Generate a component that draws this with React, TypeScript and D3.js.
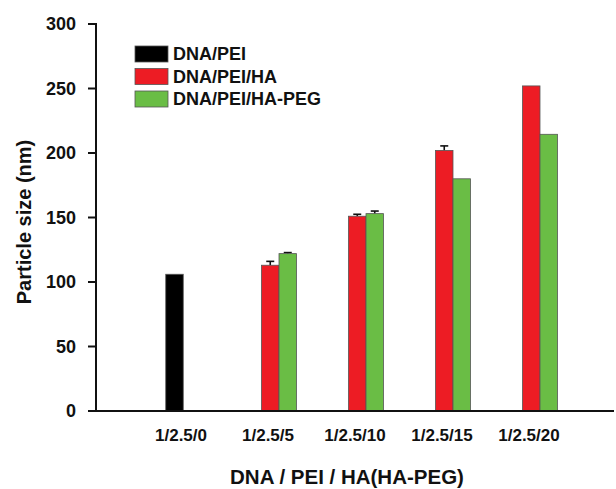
import React from "react";
import * as d3 from "d3";

// data
const categories = ["1/2.5/0", "1/2.5/5", "1/2.5/10", "1/2.5/15", "1/2.5/20"];
const seriesNames = ["DNA/PEI", "DNA/PEI/HA", "DNA/PEI/HA-PEG"];
const dnaPei = [106, null, null, null, null];
const dnaPeiHa = [null, 113, 151, 202, 252];
const dnaPeiHaPeg = [null, 122, 153, 180, 214.5];
const dnaPeiErr = [0, null, null, null, null];
const dnaPeiHaErr = [null, 3, 1.5, 3.5, 0];
const dnaPeiHaPegErr = [null, 0.8, 2, 0, 0];
const yTicks = [0, 50, 100, 150, 200, 250, 300];

const colors = ["#000000", "#ed1c24", "#6abd45"];
const font = "'Liberation Sans', Arial, sans-serif";

export default function App() {
  const width = 616;
  const height = 489;
  const margin = { left: 96, top: 24, right: 2 };
  const baseY = 411; // y position of the x axis

  const x = d3.scaleBand<string>()
    .domain(categories)
    .range([148.5, 583.5]);

  const y = d3.scaleLinear()
    .domain([0, 300])
    .range([baseY, margin.top]);

  const bw = 17.5;
  // bar left edges relative to the band centre, in bar widths
  const offsets = [-1.5, -1, 0];
  const values = [dnaPei, dnaPeiHa, dnaPeiHaPeg];
  const errors = [dnaPeiErr, dnaPeiHaErr, dnaPeiHaPegErr];

  const center = (c: string) => (x(c) as number) + x.bandwidth() / 2;

  return (
    <svg width={width} height={height} style={{ position: "absolute", left: 0, top: 0, background: "#fff" }}>
      {/* bars */}
      {values.map((vals, s) =>
        vals.map((v, i) => {
          if (v == null) return null;
          const x0 = center(categories[i]) + offsets[s] * bw;
          const e = errors[s][i] || 0;
          return (
            <g key={`${s}-${i}`}>
              {e > 0 && (
                <g stroke="#111" strokeWidth={1.6}>
                  <line x1={x0 + bw / 2} x2={x0 + bw / 2} y1={y(v)} y2={y(v + e)} />
                  <line x1={x0 + bw / 2 - 4} x2={x0 + bw / 2 + 4} y1={y(v + e)} y2={y(v + e)} />
                </g>
              )}
              <rect x={x0} y={y(v)} width={bw} height={y(0) - y(v)}
                fill={colors[s]} stroke="#555" strokeWidth={0.8} />
            </g>
          );
        })
      )}

      {/* y axis */}
      <line x1={margin.left} x2={margin.left} y1={margin.top - 1} y2={y(0)} stroke="#111" strokeWidth={2} />
      {yTicks.map(t => (
        <g key={t}>
          <line x1={margin.left - 8} x2={margin.left} y1={y(t)} y2={y(t)} stroke="#111" strokeWidth={2} />
          <text x={margin.left - 20} y={y(t)} dy="0.35em" textAnchor="end"
            fontFamily={font} fontWeight="bold" fontSize={18} fill="#111">{t}</text>
        </g>
      ))}

      {/* x axis */}
      <line x1={margin.left - 1} x2={width - margin.right} y1={y(0)} y2={y(0)} stroke="#111" strokeWidth={2} />
      {categories.map(c => (
        <text key={c} x={center(c) - 11} y={441} textAnchor="middle"
          fontFamily={font} fontWeight="bold" fontSize={17} fill="#111">{c}</text>
      ))}

      {/* axis titles */}
      <text transform={`translate(31,222) rotate(-90)`} textAnchor="middle"
        fontFamily={font} fontWeight="bold" fontSize={20} fill="#111">Particle size (nm)</text>
      <text x={347} y={484} textAnchor="middle"
        fontFamily={font} fontWeight="bold" fontSize={20.5} fill="#111">DNA / PEI / HA(HA-PEG)</text>

      {/* legend */}
      {seriesNames.map((n, i) => (
        <g key={n} transform={`translate(135,${46 + i * 22.5})`}>
          <rect width={33} height={16} fill={colors[i]} stroke="#555" strokeWidth={0.8} />
          <text x={38} y={14} fontFamily={font} fontWeight="bold" fontSize={18} fill="#111">{n}</text>
        </g>
      ))}
    </svg>
  );
}
